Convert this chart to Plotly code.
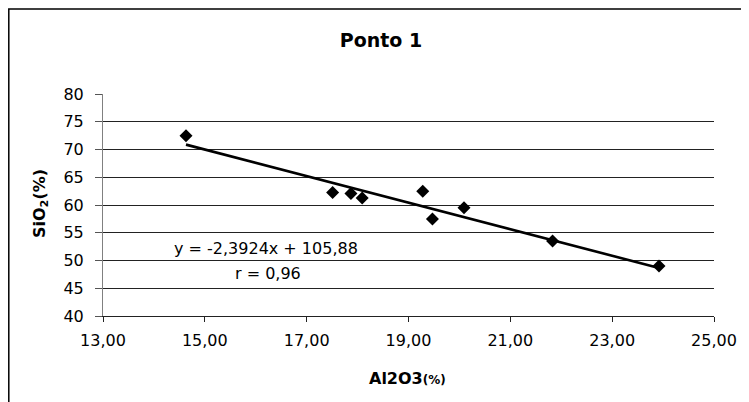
import plotly.graph_objects as go

# Data
al2o3 = [14.63, 17.51, 17.87, 18.09, 19.28, 19.47, 20.09, 21.83, 23.92]
sio2 = [72.5, 62.25, 62.05, 61.25, 62.5, 57.5, 59.5, 53.5, 49.0]

trend_slope = -2.3924
trend_intercept = 105.88
r_value = 0.96

x_ticks = [13, 15, 17, 19, 21, 23, 25]
y_ticks = [40, 45, 50, 55, 60, 65, 70, 75, 80]

title_text = "Ponto 1"
eq_text = "y = -2,3924x + 105,88"
r_text = "r = 0,96"

FONT = "DejaVu Sans, Liberation Sans, Arial, sans-serif"

trend_x = [min(al2o3), max(al2o3)]
trend_y = [trend_slope * v + trend_intercept for v in trend_x]

fig = go.Figure()
fig.add_trace(go.Scatter(
    x=trend_x, y=trend_y, mode="lines",
    line=dict(color="black", width=2.6), hoverinfo="skip", showlegend=False))
fig.add_trace(go.Scatter(
    x=al2o3, y=sio2, mode="markers",
    marker=dict(symbol="diamond", size=10, color="black"),
    showlegend=False))

OFF = 8  # page body margin offset
W, H = 749, 402
# target plot area in page pixels: left 103, right 714, top 94, bottom 316
L = 103 - OFF
R = W - (714 - OFF)
T = 94 - OFF
B = H - (316 - OFF)
pw = W - L - R
ph = H - T - B

def px_x(p):
    return (p - OFF - L) / pw

def px_y(p):
    return (H - B - (p - OFF)) / ph

fig.update_layout(
    width=W, height=H,
    margin=dict(l=L, r=R, t=T, b=B, autoexpand=False),
    paper_bgcolor="white", plot_bgcolor="white",
    separators=",.",
    font=dict(family=FONT, color="black", size=16),
    title=dict(text="<b>" + title_text + "</b>", x=(381 - OFF) / W, xanchor="center",
               xref="container", yref="container", y=1 - (40 - OFF) / H,
               yanchor="middle",
               font=dict(size=19, family=FONT, color="black")),
    xaxis=dict(range=[13, 25], tickvals=x_ticks, tickformat=".2f",
               showgrid=False, zeroline=False, showline=True,
               linecolor="#222", linewidth=1,
               ticks="outside", ticklen=5, tickcolor="#222",
               tickfont=dict(size=16, family=FONT, color="black"),
               ticklabelstandoff=5),
    yaxis=dict(range=[40, 80], tickvals=y_ticks,
               showgrid=True, gridcolor="#222", gridwidth=1,
               zeroline=False, showline=True,
               linecolor="#808080", linewidth=1,
               ticks="outside", ticklen=7, tickcolor="#555",
               tickfont=dict(size=16, family=FONT, color="black"),
               ticklabelstandoff=8),
    shapes=[dict(type="rect", xref="paper", yref="paper",
                 x0=px_x(OFF + 0.8), x1=px_x(W + 40), y0=px_y(H + 40), y1=px_y(9),
                 line=dict(color="black", width=1.5), fillcolor="rgba(0,0,0,0)",
                 layer="below")],
    annotations=[
        dict(text="<b>SiO<sub>2</sub>(%)</b>", xref="paper", yref="paper",
             x=px_x(40), y=px_y(204), textangle=-90, showarrow=False,
             xanchor="center", yanchor="middle",
             font=dict(size=16, family=FONT, color="black")),
        dict(text="<b>Al2O3<span style='font-size:12px'>(%)</span></b>",
             xref="paper", yref="paper",
             x=px_x(407), y=px_y(378), showarrow=False,
             xanchor="center", yanchor="middle",
             font=dict(size=16, family=FONT, color="black")),
        dict(text=eq_text, xref="x", yref="y", x=16.2, y=52.1,
             showarrow=False, xanchor="center", yanchor="middle",
             font=dict(size=16, family=FONT, color="black")),
        dict(text=r_text, xref="x", yref="y", x=16.25, y=47.6,
             showarrow=False, xanchor="center", yanchor="middle",
             font=dict(size=16, family=FONT, color="black")),
    ],
)

fig.write_html("out.html")
